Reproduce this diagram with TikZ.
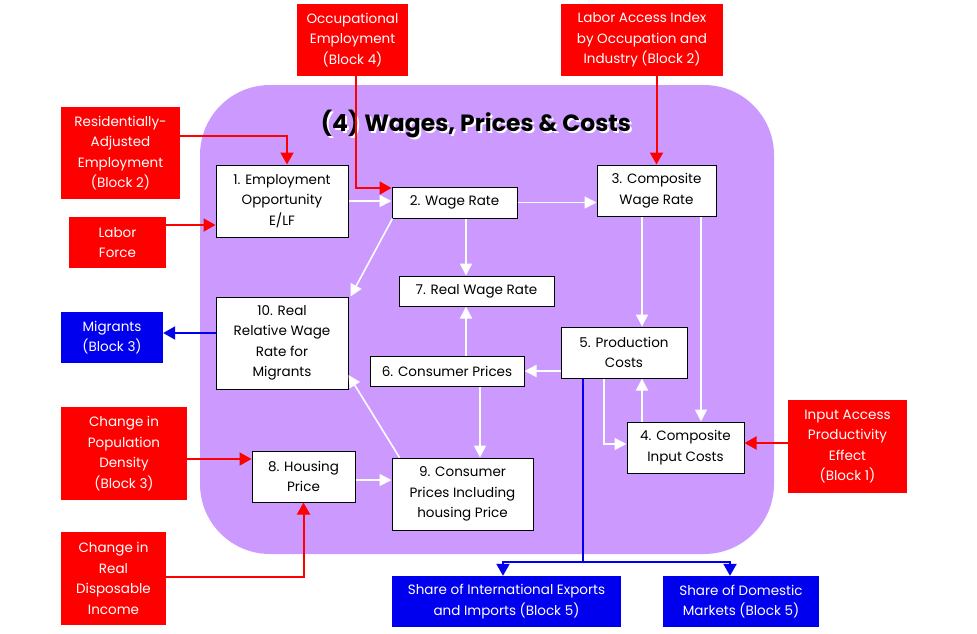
\documentclass[tikz,border=0pt]{standalone}
\usepackage{fontspec}
\setmainfont{Poppins}
\usetikzlibrary{arrows.meta}
\definecolor{blocklilac}{RGB}{204,153,255}
\definecolor{inred}{RGB}{255,0,0}
\definecolor{outblue}{RGB}{0,0,238}

\begin{document}
\begin{tikzpicture}[x=1pt,y=-1pt,
    box/.style={draw=black, fill=white, line width=1pt, inner sep=0pt, align=center,
      font=\fontsize{13.5}{20.5}\selectfont},
    inbox/.style={fill=inred, text=white, inner sep=0pt, align=center,
      font=\fontsize{13.5}{20.5}\selectfont},
    outbox/.style={fill=outblue, text=white, inner sep=0pt, align=center,
      font=\fontsize{13.5}{20.5}\selectfont},
    redarrow/.style={draw=inred, line width=2pt, -{Triangle[length=12pt,width=13pt]}},
    bluearrow/.style={draw=outblue, line width=2pt, -{Triangle[length=12pt,width=13pt]}},
    whitearrow/.style={draw=white, line width=1.6pt, -{Triangle[length=12pt,width=12pt]}}]
        \useasboundingbox (0,0) rectangle (977,633);

        % Block background
        \fill[blocklilac, rounded corners=70pt] (200,85) rectangle (774,554);
        \node[font=\fontsize{23.5}{26}\selectfont\bfseries, text=white] at (478,126) {(4) Wages, Prices \& Costs};
        \node[font=\fontsize{23.5}{26}\selectfont\bfseries, text=black] (title) at (476,124) {(4) Wages, Prices \& Costs};

        % Inputs from other blocks
        \node[inbox, minimum width=111pt, minimum height=72pt] (occ) at (352.5,40) {Occupational\\Employment\\(Block 4)};
        \node[inbox, minimum width=162pt, minimum height=72pt] (labacc) at (642,40) {Labor Access Index\\by Occupation and\\Industry (Block 2)};
        \node[inbox, minimum width=119pt, minimum height=92pt] (resemp) at (120.5,153) {Residentially-\\Adjusted\\Employment\\(Block 2)};
        \node[inbox, minimum width=97pt, minimum height=51pt] (labforce) at (117.5,242.5) {Labor\\Force};
        \node[inbox, minimum width=126pt, minimum height=93pt] (popdens) at (124,453.5) {Change in\\Population\\Density\\(Block 3)};
        \node[inbox, minimum width=105pt, minimum height=93pt] (income) at (113.5,578.5) {Change in\\Real\\Disposable\\Income};
        \node[inbox, minimum width=119pt, minimum height=93pt] (inacc) at (847.5,446.5) {Input Access\\Productivity\\Effect\\(Block 1)};

        % Outputs to other blocks
        \node[outbox, minimum width=102pt, minimum height=51pt] (migr) at (112,337.5) {Migrants\\(Block 3)};
        \node[outbox, minimum width=229pt, minimum height=51pt] (intl) at (506.5,601.5) {Share of International Exports\\and Imports (Block 5)};
        \node[outbox, minimum width=156pt, minimum height=51pt] (dom) at (741,601.5) {Share of Domestic\\Markets (Block 5)};

        % Equations in the block
        \node[box, minimum width=132pt, minimum height=72pt] (b1) at (282,201) {1. Employment\\Opportunity\\E/LF};
        \node[box, minimum width=125pt, minimum height=31pt] (b2) at (454.5,202.5) {2. Wage Rate};
        \node[box, minimum width=119pt, minimum height=51pt] (b3) at (656.5,190.5) {3. Composite\\Wage Rate};
        \node[box, minimum width=117pt, minimum height=51pt] (b4) at (685.5,447.5) {4. Composite\\Input Costs};
        \node[box, minimum width=126pt, minimum height=51pt] (b5) at (624,352.5) {5. Production\\Costs};
        \node[box, minimum width=154pt, minimum height=30pt] (b6) at (447,371) {6. Consumer Prices};
        \node[box, minimum width=155pt, minimum height=30pt] (b7) at (476.5,291) {7. Real Wage Rate};
        \node[box, minimum width=103pt, minimum height=51pt] (b8) at (303.5,476.5) {8. Housing\\Price};
        \node[box, minimum width=141pt, minimum height=72pt] (b9) at (462.5,494) {9. Consumer\\Prices Including\\housing Price};
        \node[box, minimum width=132pt, minimum height=92pt] (b10) at (282,343) {10. Real\\Relative Wage\\Rate for\\Migrants};

        % Red links coming in
        \draw[redarrow] ([xshift=3.5pt]occ.south) |- ([yshift=-1.5pt]b2.north west);
        \draw[redarrow] (labacc.south -| b3.north) -- (b3.north);
        \draw[redarrow] ([yshift=17pt]resemp.east) -| ([xshift=5pt]b1.north);
        \draw[redarrow] ([yshift=17.5pt]labforce.east) -- ([yshift=17.5pt]labforce.east -| b1.west);
        \draw[redarrow] ([yshift=-5.5pt]popdens.east) -- ([yshift=-5.5pt]popdens.east -| b8.west);
        \draw[redarrow] ([yshift=1.5pt]income.east) -| (b8.south);
        \draw[redarrow] ([yshift=3.5pt]inacc.west) -- ([yshift=3.5pt]inacc.west -| b4.east);

        % Blue links going out
        \draw[bluearrow] ([yshift=10pt]b10.west) -- ([yshift=10pt]b10.west -| migr.east);
        \coordinate (split) at (583,562);
        \draw[outblue, line width=2pt] ([xshift=-41pt]b5.south) -- (split);
        \draw[bluearrow] (split) -| ([xshift=-3.5pt]intl.north);
        \draw[bluearrow] (split) -| ([xshift=-11pt]dom.north);

        % White links inside the block
        \draw[whitearrow] (b1.east) -- (b1.east -| b2.west);
        \draw[whitearrow] (b2.east) -- (b2.east -| b3.west);
        \draw[whitearrow] ([xshift=11.5pt]b2.south) -- ([xshift=11.5pt]b2.south |- b7.north);
        \draw[whitearrow] ([xshift=1pt]b2.south west) -- ([xshift=2pt]b10.north east);
        \draw[whitearrow] ([xshift=19pt]b6.north) -- ([xshift=19pt]b6.north |- b7.south);
        \draw[whitearrow] (b5.west |- b6.east) -- (b6.east);
        \draw[whitearrow] ([xshift=33pt]b6.south) -- ([xshift=33pt]b6.south |- b9.north);
        \draw[whitearrow] ([xshift=8pt]b9.north west) -- ([yshift=-32pt]b10.east);
        \draw[whitearrow] ([yshift=-3.5pt]b8.east) -- ([yshift=-3.5pt]b8.east -| b9.west);
        \draw[whitearrow] ([xshift=-14.5pt]b3.south) -- ([xshift=-14.5pt]b3.south |- b5.north);
        \draw[whitearrow] ([xshift=44.5pt]b3.south) -- ([xshift=44.5pt]b3.south |- b4.north);
        \draw[whitearrow] ([xshift=-43.5pt]b4.north) -- ([xshift=-43.5pt]b4.north |- b5.south);
        \draw[whitearrow] ([xshift=-20pt]b5.south) |- ([yshift=3.5pt]b4.west);
\end{tikzpicture}
\end{document}
